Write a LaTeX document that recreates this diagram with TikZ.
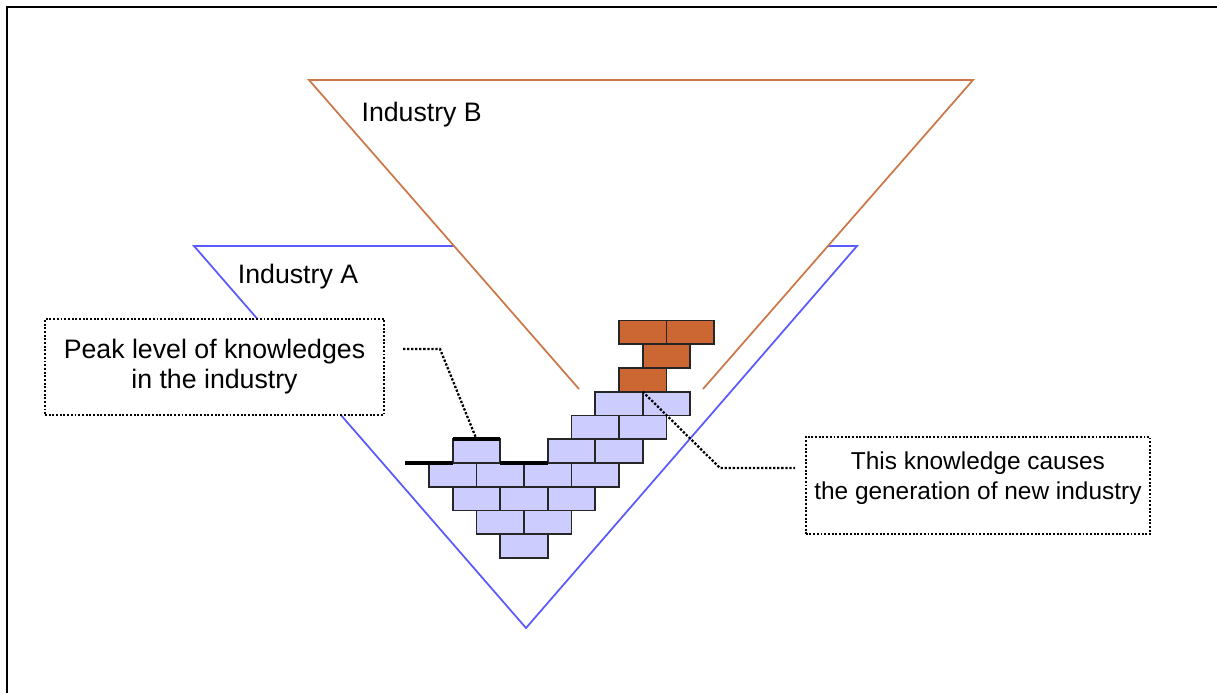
\documentclass[tikz,border=0pt]{standalone}
\usepackage{fontspec}
\setmainfont{Liberation Sans}
\usetikzlibrary{calc}

\definecolor{indA}{RGB}{90,90,255}
\definecolor{indB}{RGB}{204,120,72}
\definecolor{oldbrick}{RGB}{204,204,255}
\definecolor{newbrick}{RGB}{204,102,51}

\tikzset{
  brick/.style={draw=black!85,line width=1.1pt,fill=oldbrick,minimum width=0.95cm,minimum height=0.475cm,inner sep=0pt,outer sep=0pt},
  callout/.style={draw,densely dotted,line width=1.1pt,fill=white,align=center,inner sep=0pt},
  pointer/.style={densely dotted,line width=1.3pt},
  peakline/.style={line width=2.2pt},
}

\begin{document}
\begin{tikzpicture}[font=\fontsize{15.2}{17}\selectfont]
\useasboundingbox (0,0) rectangle (24.34,13.86);
% frame, only its top left corner is on the page
\draw[line width=1.3pt] (0.14,0) -- (0.14,13.72) -- (24.34,13.72);

% industry A
\draw[indA,line width=1pt] (3.88,8.94) -- (17.14,8.94) -- (10.52,1.30) -- cycle;
% industry B, cut off above the wall
\fill[white] (11.58,6.08) -- (6.18,12.26) -- (19.46,12.26) -- (14.06,6.08) -- cycle;
\draw[indB,line width=1pt] (11.58,6.08) -- (6.18,12.26) -- (19.46,12.26) -- (14.06,6.08);

\node[fill=white,inner sep=1pt] (labA) at (5.96,8.334) {Industry A};
\node[fill=white,inner sep=1pt] (labB) at (8.434,11.566) {Industry B};

% the wall of knowledge
\foreach \c/\r in {3/0,2/1,4/1,1/2,3/2,5/2,0/3,2/3,4/3,6/3,1/4,5/4,7/4,6/5,8/5,7/6,9/6}
  \node[brick] (b\c-\r) at ({8.58+(\c+1)*0.475},{2.70+(\r+0.5)*0.475}) {};
\foreach \c/\r in {8/7,9/8,8/9,10/9}
  \node[brick,fill=newbrick] (b\c-\r) at ({8.58+(\c+1)*0.475},{2.70+(\r+0.5)*0.475}) {};

% peak level
\draw[peakline] (8.10,4.60) -- (b1-4.south west);
\draw[peakline] (b1-4.north west) -- (b1-4.north east);
\draw[peakline] (b1-4.south east) -- ++(0.95,0);

% callouts
\node[callout,minimum width=6.78cm,minimum height=1.92cm] (peakbox) at (4.29,6.52) {Peak level of knowledges\\in the industry};
\node[callout,minimum width=6.886cm,minimum height=1.952cm,text depth=0.39cm,font=\fontsize{13.9}{17}\selectfont] (newbox) at (19.558,4.15) {This knowledge causes\\the generation of new industry};

\coordinate (peakfree) at (8.06,6.88);
\coordinate (newfree) at (15.90,4.50);
\draw[pointer] (peakfree) -- ++(0.74,0) -- (b1-4.north);
\draw[pointer] (b9-6.north west) -- (14.40,4.50) -- (newfree);
\end{tikzpicture}
\end{document}
